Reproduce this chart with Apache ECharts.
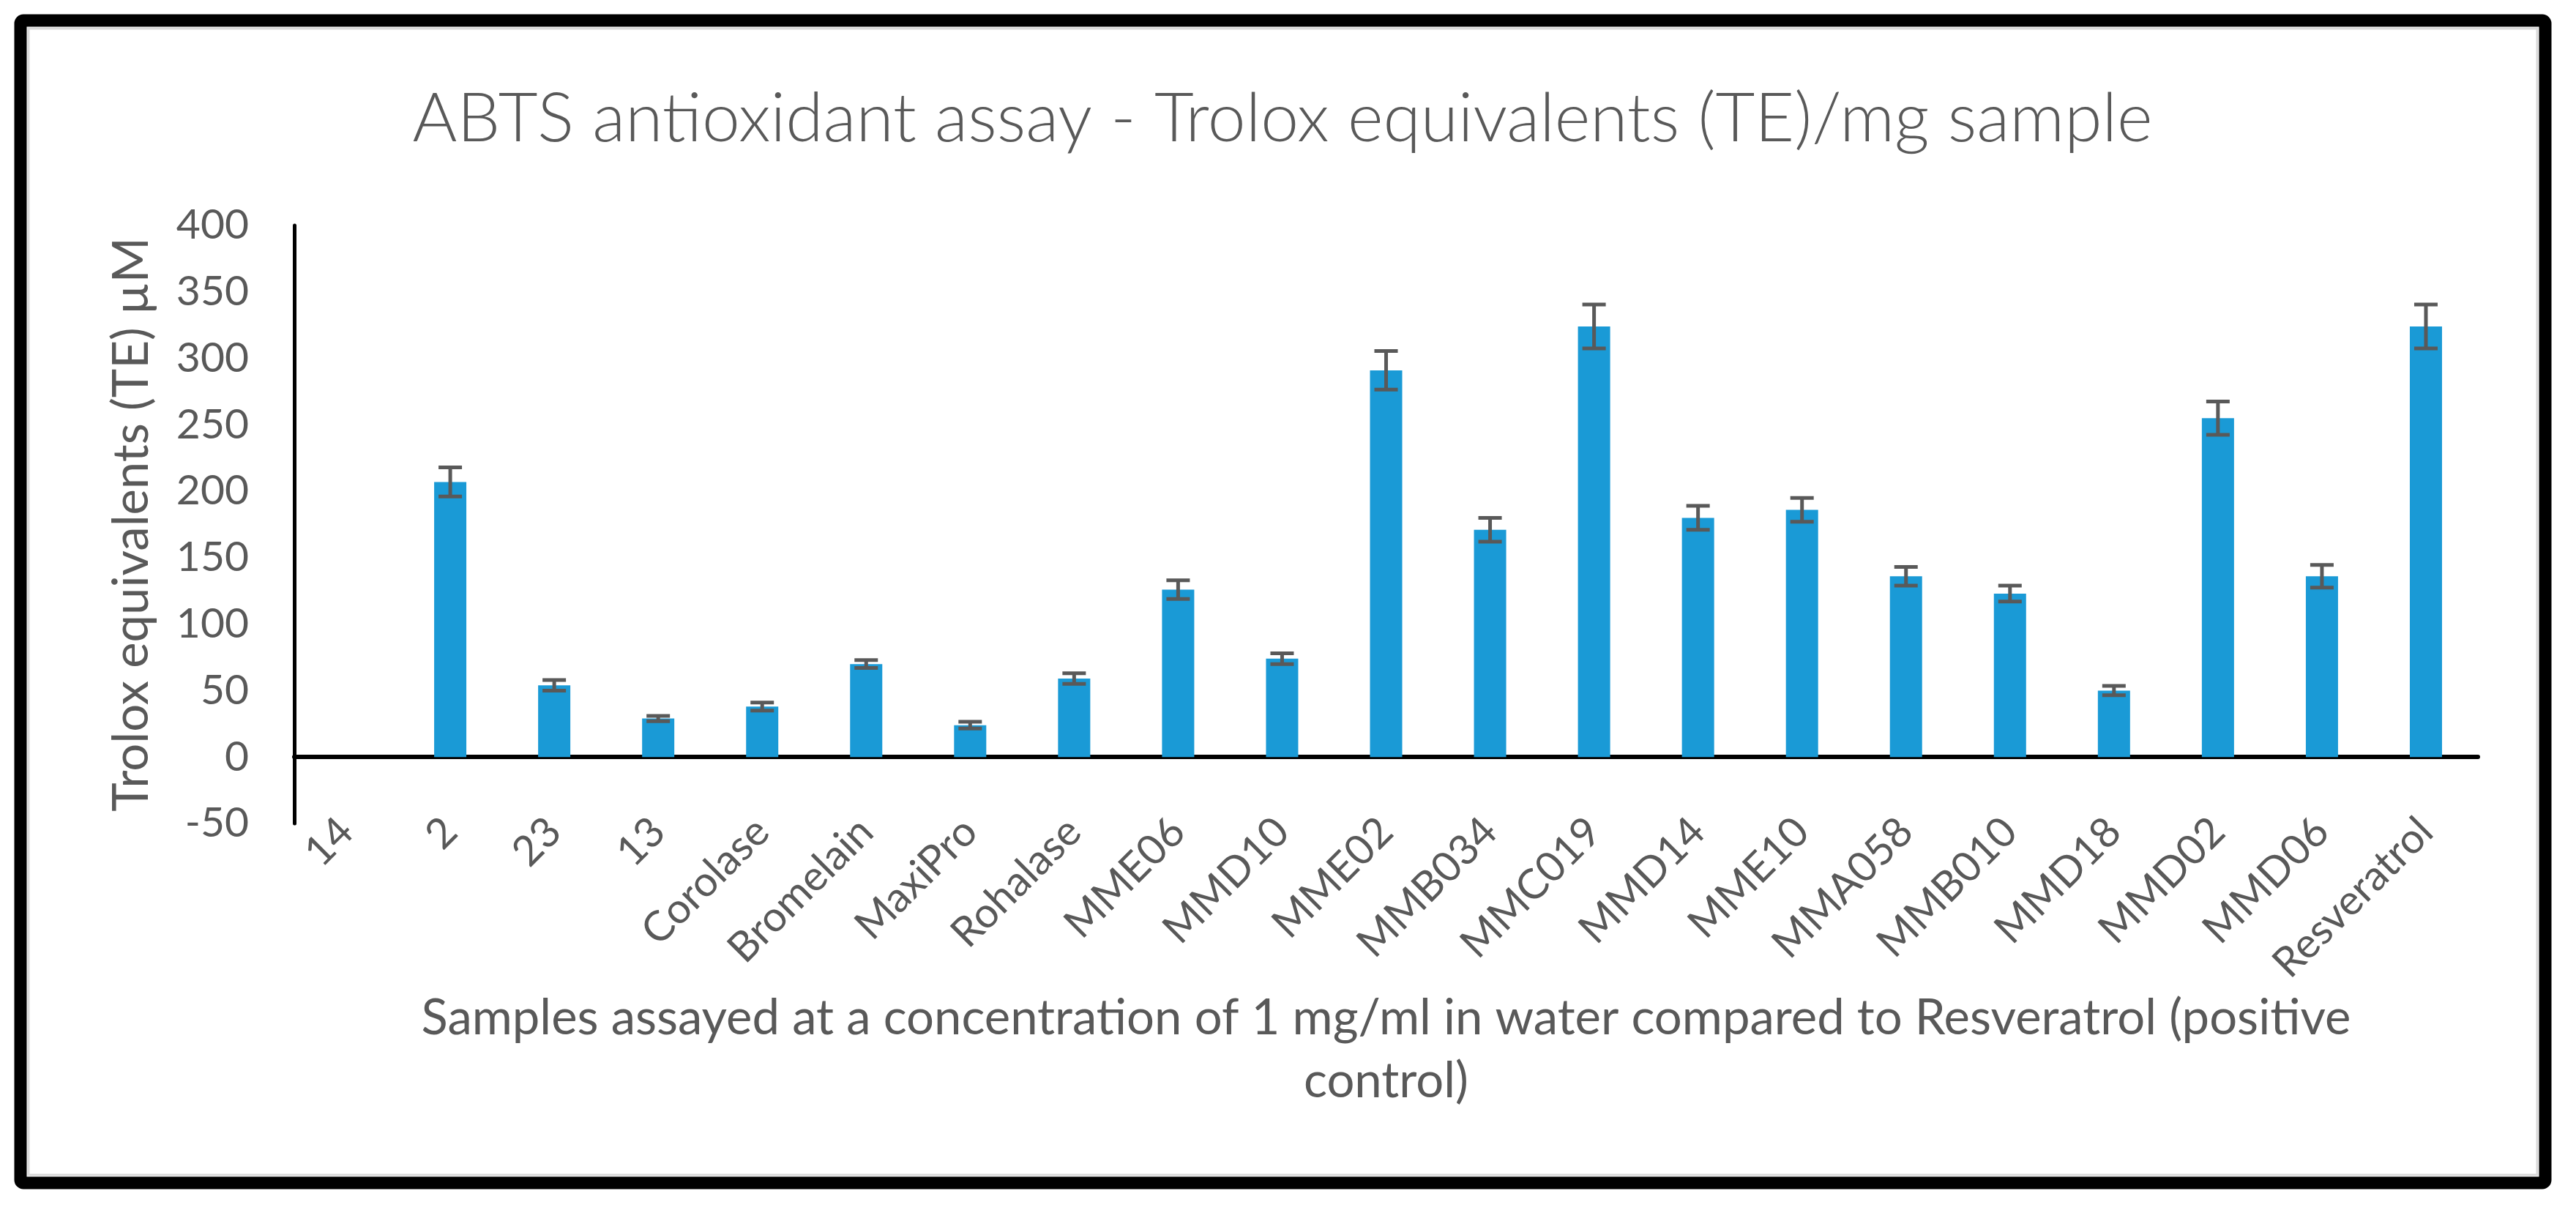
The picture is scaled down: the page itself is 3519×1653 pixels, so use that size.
<!DOCTYPE html>
<html>
<head>
<meta charset="utf-8">
<script src="https://cdn.jsdelivr.net/npm/echarts@6/dist/echarts.min.js"></script>
<style>
html,body{margin:0;padding:0;background:#fff;}
#chart{width:3519px;height:1653px;}
</style>
</head>
<body>
<div id="chart"></div>
<script>
const categories = ['14','2','23','13','Corolase','Bromelain','MaxiPro','Rohalase','MME06','MMD10','MME02','MMB034','MMC019','MMD14','MME10','MMA058','MMB010','MMD18','MMD02','MMD06','Resveratrol'];
const values = [0, 207, 54, 29, 38, 70, 24, 59, 126, 74, 291, 171, 324, 180, 186, 136, 123, 50, 255, 136, 324];
const errors = [0, 11, 4, 2, 3, 3, 2.5, 4, 7, 4, 14.5, 9, 16.5, 9, 9, 7, 6, 3.5, 12.5, 8.5, 16.5];
const yTicks = { min: -50, max: 400, interval: 50 };
const titleText = 'ABTS antioxidant assay - Trolox equivalents (TE)/mg sample';
const xAxisName = 'Samples assayed at a concentration of 1 mg/ml in water compared to Resveratrol (positive\ncontrol)';
const yAxisName = 'Trolox equivalents (TE) µM';

const FONT = 'Lato, "Open Sans", sans-serif';
const TXT = '#595959';

const errData = [];
values.forEach((v, i) => { if (errors[i] > 0) errData.push([i, v - errors[i], v + errors[i]]); });

const chart = echarts.init(document.getElementById('chart'));
chart.setOption({
  animation: false,
  backgroundColor: '#ffffff',
  graphic: [
    { type: 'rect', shape: { x: 28, y: 28, width: 3449, height: 1588, r: 4 }, style: { fill: 'none', stroke: '#000', lineWidth: 17 }, z: 10 },
    { type: 'rect', shape: { x: 39, y: 39, width: 3427, height: 1566 }, style: { fill: 'none', stroke: '#d9d9d9', lineWidth: 3 }, z: 9 },
    { type: 'text', x: 1752, y: 163, style: { text: titleText, textAlign: 'center', textVerticalAlign: 'middle', fontFamily: FONT, fontWeight: 300, fontSize: 93, fill: TXT } }
  ],
  grid: { left: 402, right: 134, top: 308, bottom: 528 },
  xAxis: [
    {
      type: 'category', data: categories, position: 'bottom',
      axisLine: { show: false, onZero: false }, axisTick: { show: false },
      axisLabel: { rotate: 45, interval: 0, margin: 2, color: TXT, fontFamily: FONT, fontSize: 57 },
      name: xAxisName, nameLocation: 'middle', nameGap: 212,
      nameTextStyle: { color: TXT, fontFamily: FONT, fontSize: 67, lineHeight: 86 }
    },
    {
      type: 'category', data: categories, position: 'top',
      axisLine: { show: true, onZero: true, lineStyle: { color: '#000', width: 6 } },
      axisTick: { show: false }, axisLabel: { show: false }
    }
  ],
  yAxis: {
    type: 'value', min: yTicks.min, max: yTicks.max, interval: yTicks.interval,
    axisLine: { show: true, lineStyle: { color: '#000', width: 5 } },
    axisTick: { show: false }, splitLine: { show: false },
    axisLabel: { margin: 62, color: TXT, fontFamily: FONT, fontSize: 57 },
    name: yAxisName, nameLocation: 'middle', nameGap: 188,
    nameTextStyle: { color: TXT, fontFamily: FONT, fontSize: 67 }
  },
  series: [
    {
      type: 'bar', data: values, xAxisIndex: 0, barWidth: 44,
      itemStyle: { color: '#1A9AD6' }
    },
    {
      type: 'custom', xAxisIndex: 0, data: errData, z: 5,
      renderItem: function (params, api) {
        const x = api.value(0);
        const pHi = api.coord([x, api.value(2)]);
        const pLo = api.coord([x, api.value(1)]);
        const half = 16;
        const st = { stroke: '#595959', lineWidth: 5 };
        return {
          type: 'group', children: [
            { type: 'line', shape: { x1: pHi[0], y1: pHi[1], x2: pLo[0], y2: pLo[1] }, style: st },
            { type: 'line', shape: { x1: pHi[0] - half, y1: pHi[1], x2: pHi[0] + half, y2: pHi[1] }, style: st },
            { type: 'line', shape: { x1: pLo[0] - half, y1: pLo[1], x2: pLo[0] + half, y2: pLo[1] }, style: st }
          ]
        };
      }
    }
  ]
});
</script>
</body>
</html>
